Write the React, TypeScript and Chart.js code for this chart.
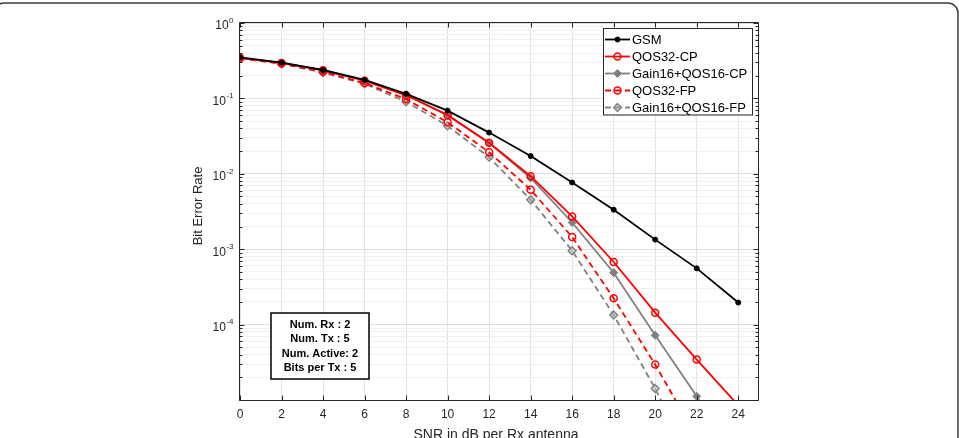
import React, { useEffect, useRef } from 'react';
import { Chart, registerables } from 'chart.js';

Chart.register(...registerables);

// ---------------- data ----------------
const snrDb = [0, 2, 4, 6, 8, 10, 12, 14, 16, 18, 20, 22, 24];
const gsm = [0.351, 0.298, 0.238, 0.176, 0.115, 0.0689, 0.0352, 0.0172, 0.00767, 0.00334, 0.00134, 0.000557, 0.000196];
const qos32Cp = [0.345, 0.295, 0.236, 0.172, 0.110, 0.0600, 0.0258, 0.0093, 0.00272, 0.000677, 0.000144, 0.0000344, 0.0000085];
const gain16Cp = [0.345, 0.296, 0.237, 0.173, 0.112, 0.0604, 0.0255, 0.0088, 0.00226, 0.000488, 0.000072, 0.0000112, 0.0000016];
const qos32Fp = [0.34, 0.29, 0.225, 0.16, 0.0976, 0.0483, 0.0193, 0.00614, 0.00145, 0.000223, 0.0000295, 0.0000032];
const gain16Fp = [0.34, 0.288, 0.22, 0.156, 0.09, 0.0432, 0.0166, 0.00453, 0.000955, 0.000134, 0.0000142, 0.0000011];

const seriesNames = ['GSM', 'QOS32-CP', 'Gain16+QOS16-CP', 'QOS32-FP', 'Gain16+QOS16-FP'];
const xTickValues = [0, 2, 4, 6, 8, 10, 12, 14, 16, 18, 20, 22, 24];
const yDecadeValues = [1, 0.1, 0.01, 0.001, 0.0001];
const yDecadeExponents = ['0', '-1', '-2', '-3', '-4'];
const noteLines = ['Num. Rx : 2', 'Num. Tx : 5', 'Num. Active: 2', 'Bits per Tx : 5'];
const xTitle = 'SNR in dB per Rx antenna';
const yTitle = 'Bit Error Rate';

const X_MIN = 0;
const X_MAX = 25;
const Y_MIN = 1e-5;
const Y_MAX = 1;

const FONT = '"Liberation Sans", Arial, Helvetica, sans-serif';
const AXIS_COLOR = '#262626';
const RED = '#ff0000';
const GRAY = '#808080';

// log minor tick positions (1..9 x 10^e)
const yTickValues: number[] = [];
for (let e = -5; e < 0; e++) {
  for (let m = 1; m <= 9; m++) yTickValues.push(Number((m * Math.pow(10, e)).toPrecision(6)));
}
yTickValues.push(1);

const isDecade = (v: number) => Math.abs(Math.log10(v) - Math.round(Math.log10(v))) < 1e-9;

const toPts = (ys: number[]) => ys.map((y, i) => ({ x: snrDb[i], y }));

const decorPlugin = {
  id: 'decor',
  beforeDraw(chart: any) {
    const { ctx, width, height } = chart;
    ctx.save();
    ctx.fillStyle = '#ffffff';
    ctx.fillRect(0, 0, width, height);
    ctx.restore();
  },
  afterDatasetsDraw(chart: any) {
    const { ctx, chartArea: a, scales } = chart;
    const xs = scales.x;
    const ys = scales.y;
    const L = Math.round(a.left) - 0.5;
    const R = Math.round(a.right) - 0.5;
    const T = Math.round(a.top) - 0.5;
    const B = Math.round(a.bottom) + 0.5;
    ctx.save();
    ctx.strokeStyle = AXIS_COLOR;
    ctx.lineWidth = 1;
    ctx.beginPath();
    ctx.rect(L, T, R - L, B - T);
    ctx.stroke();
    // x ticks (inward, bottom & top)
    ctx.beginPath();
    xTickValues.forEach((v) => {
      const px = Math.round(xs.getPixelForValue(v)) + 0.5;
      ctx.moveTo(px, B);
      ctx.lineTo(px, B - 5);
      ctx.moveTo(px, T);
      ctx.lineTo(px, T + 5);
    });
    // y ticks (inward, left & right)
    yTickValues.forEach((v) => {
      const py = Math.round(ys.getPixelForValue(v)) + 0.5;
      const len = isDecade(v) ? 5 : 3;
      ctx.moveTo(L, py);
      ctx.lineTo(L + len, py);
      ctx.moveTo(R, py);
      ctx.lineTo(R - len, py);
    });
    ctx.stroke();

    // x tick labels
    ctx.fillStyle = AXIS_COLOR;
    ctx.font = `12px ${FONT}`;
    ctx.textAlign = 'center';
    ctx.textBaseline = 'middle';
    xTickValues.forEach((v) => {
      ctx.fillText(String(v), xs.getPixelForValue(v), 415);
    });

    // y tick labels with superscript
    const rightEdge = a.left - 6.5;
    yDecadeValues.forEach((v, i) => {
      const py = ys.getPixelForValue(v);
      ctx.font = `8px ${FONT}`;
      ctx.textAlign = 'right';
      ctx.textBaseline = 'middle';
      const ew = ctx.measureText(yDecadeExponents[i]).width;
      ctx.fillText(yDecadeExponents[i], rightEdge, py - 2.5);
      ctx.font = `12px ${FONT}`;
      ctx.fillText('10', rightEdge - ew - 0.5, py + 3);
    });

    // axis titles
    ctx.font = `14px ${FONT}`;
    ctx.textAlign = 'center';
    ctx.textBaseline = 'alphabetic';
    ctx.fillText(xTitle, 496, 438.5);
    ctx.save();
    ctx.translate(198, 206);
    ctx.rotate(-Math.PI / 2);
    ctx.font = `13px ${FONT}`;
    ctx.textBaseline = 'middle';
    ctx.fillText(yTitle, 0, 0);
    ctx.restore();
    ctx.restore();
  },
  afterDraw(chart: any) {
    const { ctx } = chart;
    ctx.save();
    // legend
    const lx = 603.5, ly = 28.5, lw = 149, lh = 86.5;
    ctx.fillStyle = '#ffffff';
    ctx.fillRect(lx, ly, lw, lh);
    ctx.strokeStyle = AXIS_COLOR;
    ctx.lineWidth = 1;
    ctx.strokeRect(lx, ly, lw, lh);
    chart.data.datasets.forEach((ds: any, i: number) => {
      const cy = 39.5 + i * 17;
      ctx.save();
      ctx.strokeStyle = ds.borderColor;
      ctx.lineWidth = ds.borderWidth;
      ctx.setLineDash(ds.borderDash || []);
      ctx.beginPath();
      ctx.moveTo(605, cy);
      ctx.lineTo(630, cy);
      ctx.stroke();
      ctx.setLineDash([]);
      // marker
      const mx = 617.5;
      ctx.fillStyle = ds.pointBackgroundColor;
      ctx.strokeStyle = ds.pointBorderColor;
      ctx.lineWidth = ds.pointBorderWidth;
      ctx.beginPath();
      if (ds.pointStyle === 'rectRot') {
        const r = ds.pointRadius;
        ctx.moveTo(mx, cy - r);
        ctx.lineTo(mx + r, cy);
        ctx.lineTo(mx, cy + r);
        ctx.lineTo(mx - r, cy);
        ctx.closePath();
      } else {
        ctx.arc(mx, cy, ds.pointRadius, 0, Math.PI * 2);
      }
      ctx.fill();
      ctx.stroke();
      ctx.restore();
      ctx.fillStyle = '#000000';
      ctx.font = `13px ${FONT}`;
      ctx.textAlign = 'left';
      ctx.textBaseline = 'middle';
      ctx.fillText(seriesNames[i], 632, cy + 0.5);
    });

    // parameter note box
    const bx = 271, by = 313, bw = 98, bh = 66;
    ctx.fillStyle = '#ffffff';
    ctx.fillRect(bx, by, bw, bh);
    ctx.strokeStyle = '#000000';
    ctx.lineWidth = 1.5;
    ctx.strokeRect(bx, by, bw, bh);
    ctx.fillStyle = '#000000';
    ctx.font = `bold 11px ${FONT}`;
    ctx.textAlign = 'center';
    ctx.textBaseline = 'middle';
    noteLines.forEach((t, i) => {
      ctx.fillText(t, bx + bw / 2, 324.5 + i * 14.5);
    });

    // outer rounded frame
    ctx.strokeStyle = '#3c3c3c';
    ctx.lineWidth = 1.5;
    ctx.beginPath();
    ctx.roundRect(-6, 3, 964, 460, 10);
    ctx.stroke();
    ctx.restore();
  },
};

export default function App() {
  const ref = useRef<HTMLCanvasElement | null>(null);
  useEffect(() => {
    if (!ref.current) return;
    const mk = (label: string, ys: number[], color: string, style: string, radius: number, fill: string, dash: number[], pbw: number, bw: number) => ({
      label,
      data: toPts(ys),
      borderColor: color,
      backgroundColor: fill,
      borderWidth: bw,
      borderDash: dash,
      pointStyle: style,
      pointRadius: radius,
      pointBackgroundColor: fill,
      pointBorderColor: color,
      pointBorderWidth: pbw,
      tension: 0,
    });
    const chart = new Chart(ref.current, {
      type: 'line',
      data: {
        datasets: [
          mk(seriesNames[0], gsm, '#000000', 'circle', 2.5, '#000000', [], 1, 1.8),
          mk(seriesNames[1], qos32Cp, RED, 'circle', 3.5, 'rgba(255,255,255,0)', [], 1.5, 1.8),
          mk(seriesNames[2], gain16Cp, GRAY, 'rectRot', 4, GRAY, [], 1, 1.8),
          mk(seriesNames[3], qos32Fp, RED, 'circle', 3.5, 'rgba(255,255,255,0)', [6, 4], 1.5, 1.8),
          mk(seriesNames[4], gain16Fp, GRAY, 'rectRot', 4, 'rgba(170,170,170,0.6)', [6, 4], 1.3, 1.8),
        ] as any,
      },
      options: {
        responsive: false,
        maintainAspectRatio: false,
        animation: false,
        layout: { padding: { left: 0, top: 23, right: 200, bottom: 0 } },
        plugins: { legend: { display: false }, tooltip: { enabled: false } },
        scales: {
          x: {
            type: 'linear',
            min: X_MIN,
            max: X_MAX,
            ticks: { display: false },
            border: { display: false },
            grid: { color: '#e3e3e3', drawTicks: false, lineWidth: 1 },
            afterBuildTicks: (s: any) => {
              s.ticks = xTickValues.map((v) => ({ value: v }));
            },
            afterFit: (s: any) => {
              s.height = 38;
            },
          },
          y: {
            type: 'logarithmic',
            min: Y_MIN,
            max: Y_MAX,
            ticks: { display: false, autoSkip: false },
            border: { display: false },
            grid: {
              drawTicks: false,
              color: (c: any) => (c.tick && isDecade(c.tick.value) ? '#dfdfdf' : '#f1f1f1'),
            },
            afterBuildTicks: (s: any) => {
              s.ticks = yTickValues.map((v) => ({ value: v, major: isDecade(v) }));
            },
            afterFit: (s: any) => {
              s.width = 240;
            },
          },
        },
      } as any,
      plugins: [decorPlugin],
    });
    return () => chart.destroy();
  }, []);
  return (
    <div style={{ position: 'absolute', left: 0, top: 0, width: 959, height: 438 }}>
      <canvas ref={ref} width={959} height={438} style={{ display: 'block' }} />
    </div>
  );
}
